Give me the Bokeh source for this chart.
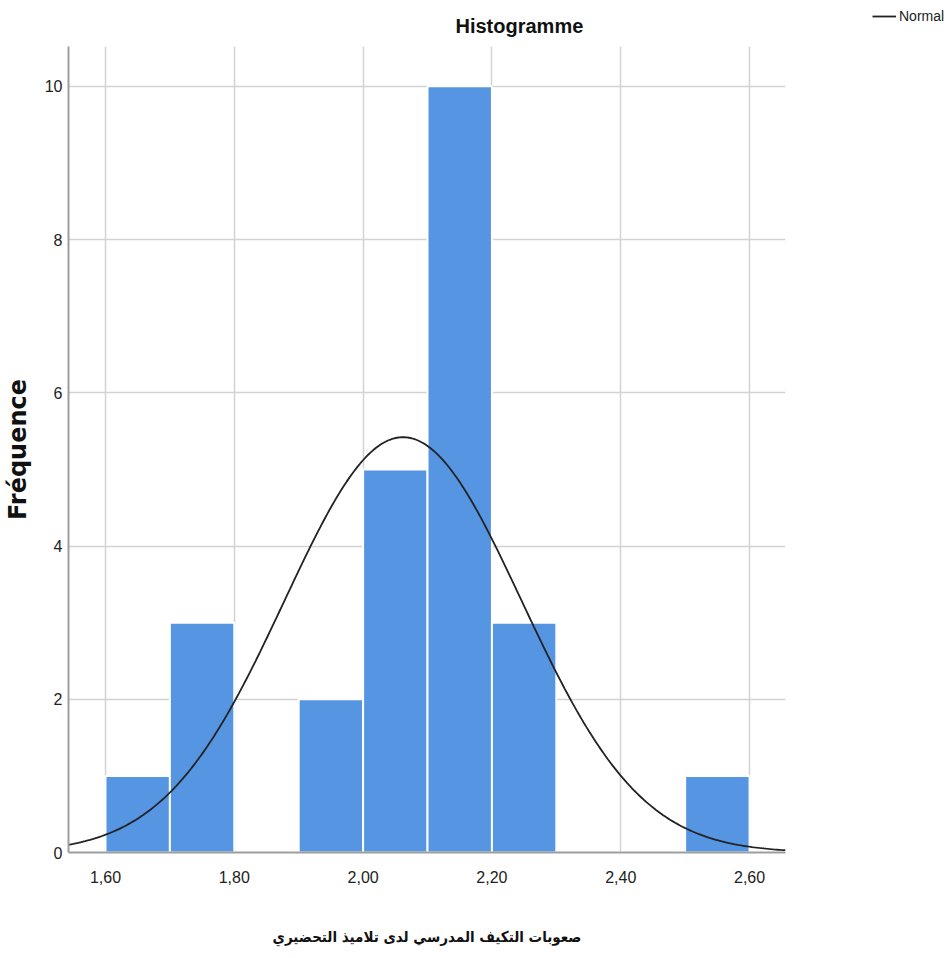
import numpy as np
from bokeh.plotting import figure
from bokeh.models import (ColumnDataSource, FixedTicker, Legend, LegendItem, Range1d)
from bokeh.embed import file_html
from bokeh.resources import INLINE

# ---- data ----
bin_left = [1.6, 1.7, 1.8, 1.9, 2.0, 2.1, 2.2, 2.3, 2.4, 2.5]
bin_right = [1.7, 1.8, 1.9, 2.0, 2.1, 2.2, 2.3, 2.4, 2.5, 2.6]
counts = [1, 3, 0, 2, 5, 10, 3, 0, 0, 1]
normal_mean = 2.062
normal_sd = 0.184
n_obs = 25
bin_width = 0.1
x_ticks = [1.6, 1.8, 2.0, 2.2, 2.4, 2.6]
x_tick_labels = ["1,60", "1,80", "2,00", "2,20", "2,40", "2,60"]
y_ticks = [0, 2, 4, 6, 8, 10]

NARROW = "'Liberation Sans Narrow', 'Arial Narrow', 'Liberation Sans', sans-serif"

x0, x1 = 1.5426, 2.6558
p = figure(width=935, height=948, frame_width=717, frame_height=806,
           min_border_left=59, min_border_top=46, min_border_right=159, min_border_bottom=96,
           x_range=Range1d(x0, x1), y_range=Range1d(0, 10.52),
           output_backend="svg", toolbar_location=None)
p.outline_line_color = None
p.background_fill_color = "white"
p.border_fill_color = "white"

src = ColumnDataSource(dict(left=bin_left, right=bin_right, top=counts,
                            bottom=[0] * len(counts)))
p.quad(left="left", right="right", top="top", bottom="bottom", source=src,
       fill_color="#5595E2", line_color="white", line_width=2)

xs = np.linspace(x0, x1, 300)
ys = n_obs * bin_width / (normal_sd * np.sqrt(2 * np.pi)) * np.exp(-0.5 * ((xs - normal_mean) / normal_sd) ** 2)
curve = p.line(xs, ys, line_color="#222222", line_width=1.8)

# title
p.title.text = "Histogramme"
p.title.align = "left"
p.title.offset = 387
p.title.text_font = NARROW
p.title.text_font_style = "bold"
p.title.text_font_size = "20px"
p.title.text_color = "#111111"
p.title.standoff = 20

# axes
for ax in (p.xaxis[0], p.yaxis[0]):
    ax.axis_line_color = "#9e9e9e"
    ax.axis_line_width = 2
    ax.major_tick_in = 0
    ax.major_tick_out = 0
    ax.minor_tick_line_color = None
    ax.major_label_text_font = NARROW
    ax.major_label_text_font_size = "16px"
    ax.major_label_text_color = "#222222"

p.xaxis.ticker = FixedTicker(ticks=x_ticks)
p.xaxis.major_label_overrides = {t: l for t, l in zip(x_ticks, x_tick_labels)}
p.xaxis.major_label_standoff = 18
p.xaxis.axis_label = "صعوبات التكيف المدرسي لدى تلاميذ التحضيري"
p.xaxis.axis_label_text_font = "'DejaVu Sans Condensed', 'DejaVu Sans', sans-serif"
p.xaxis.axis_label_text_font_style = "bold"
p.xaxis.axis_label_text_font_size = "15px"
p.xaxis.axis_label_text_color = "#111111"
p.xaxis.axis_label_standoff = 42

p.yaxis.ticker = FixedTicker(ticks=y_ticks)
p.yaxis.major_label_standoff = 6
p.yaxis.axis_label = "Fréquence"
p.yaxis.axis_label_text_font = "DejaVu Sans"
p.yaxis.axis_label_text_font_style = "bold"
p.yaxis.axis_label_text_font_size = "24px"
p.yaxis.axis_label_text_color = "#111111"
p.yaxis.axis_label_standoff = 10

p.xgrid.ticker = FixedTicker(ticks=x_ticks)
p.ygrid.ticker = FixedTicker(ticks=y_ticks)
for g in (p.xgrid[0], p.ygrid[0]):
    g.grid_line_color = "#d2d2d2"
    g.grid_line_width = 1.5

legend = Legend(items=[LegendItem(label="Normal", renderers=[curve])],
                location=(87, 827), orientation="vertical",
                border_line_color=None, background_fill_alpha=0,
                padding=0, margin=0, spacing=0,
                glyph_width=24, glyph_height=18, label_standoff=3,
                label_text_font=NARROW, label_text_font_size="14px",
                label_text_color="#222222")
p.add_layout(legend, "right")

open("out.html", "w").write(file_html(p, INLINE))
